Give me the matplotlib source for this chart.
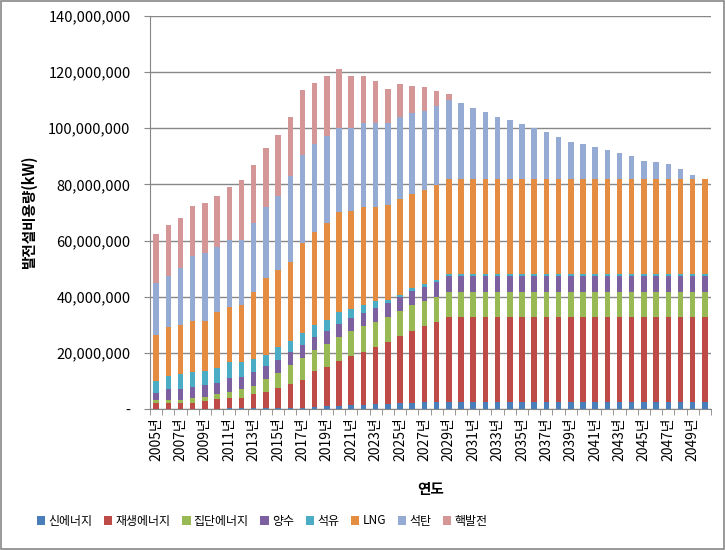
import matplotlib.pyplot as plt
import numpy as np
from matplotlib.patches import Patch, Rectangle
from matplotlib.ticker import FuncFormatter

plt.rcParams['font.family'] = ['Noto Sans CJK KR', 'DejaVu Sans']

# 발전설비용량, 단위: 백만 kW
years = list(range(2005, 2051))
names = ['신에너지', '재생에너지', '집단에너지', '양수', '석유', 'LNG', '석탄', '핵발전']
colors = ['#4A7EBB', '#BE4B48', '#98B954', '#7D60A0', '#4BACC6', '#E48C42', '#95ABD3', '#D49696']

new_energy = [0.1, 0.1, 0.1, 0.1, 0.1, 0.1, 0.2, 0.2, 0.2, 0.3, 0.3, 0.4, 0.5, 0.7, 0.9, 1.1,
              1.3, 1.5, 1.7, 1.9, 2.1, 2.3, 2.4, 2.5, 2.5, 2.5, 2.5, 2.5, 2.5, 2.5, 2.5, 2.5,
              2.5, 2.5, 2.5, 2.5, 2.5, 2.5, 2.5, 2.5, 2.5, 2.5, 2.5, 2.5, 2.5, 2.5]
renewable = [1.9, 1.9, 1.9, 2.2, 2.9, 3.3, 3.6, 3.6, 5.1, 5.9, 7.1, 8.5, 9.8, 12.8, 14.2, 16.1,
             17.7, 18.9, 20.5, 22.1, 24.0, 25.5, 27.3, 28.6, 30.2, 30.2, 30.2, 30.2, 30.2, 30.2,
             30.2, 30.2, 30.2, 30.2, 30.2, 30.2, 30.2, 30.2, 30.2, 30.2, 30.2, 30.2, 30.2, 30.2,
             30.2, 30.2]
district = [1.2, 1.2, 1.2, 1.5, 1.4, 1.9, 2.4, 3.2, 3.0, 4.5, 5.3, 6.8, 7.8, 7.5, 8.1, 8.6,
            8.9, 9.2, 8.9, 8.9, 8.9, 9.3, 8.8, 8.9, 9.1, 9.1, 9.1, 9.1, 9.1, 9.1, 9.1, 9.1,
            9.1, 9.1, 9.1, 9.1, 9.1, 9.1, 9.1, 9.1, 9.1, 9.1, 9.1, 9.1, 9.1, 9.1]
pumped = [2.4, 3.8, 3.8, 4.2, 4.1, 3.8, 5.0, 4.5, 5.0, 4.6, 4.8, 4.7, 4.7, 4.8, 4.6, 4.5,
          4.4, 4.7, 4.8, 4.8, 5.0, 4.9, 5.1, 5.4, 5.4, 5.7, 5.7, 5.7, 5.7, 5.7, 5.7, 5.7,
          5.7, 5.7, 5.7, 5.7, 5.7, 5.7, 5.7, 5.7, 5.7, 5.7, 5.7, 5.7, 5.7, 5.7]
oil = [4.5, 4.8, 5.3, 5.2, 5.0, 5.4, 5.4, 5.4, 4.5, 3.9, 4.5, 3.8, 4.2, 4.1, 3.9, 4.1,
       3.2, 2.8, 2.7, 1.1, 0.6, 1.0, 0.8, 0.6, 0.8, 0.7, 0.7, 0.7, 0.7, 0.7, 0.7, 0.7,
       0.7, 0.7, 0.7, 0.7, 0.7, 0.7, 0.7, 0.7, 0.7, 0.7, 0.7, 0.7, 0.7, 0.7]
lng = [16.3, 17.5, 17.6, 18.3, 18.0, 20.2, 19.9, 20.2, 24.0, 27.4, 27.5, 28.3, 32.3, 33.3,
       34.7, 35.6, 35.1, 35.0, 33.3, 33.7, 34.2, 33.5, 33.6, 33.7, 33.8, 33.6, 33.6, 33.6,
       33.6, 33.6, 33.6, 33.6, 33.6, 33.6, 33.6, 33.6, 33.6, 33.6, 33.6, 33.6, 33.6, 33.6,
       33.6, 33.6, 33.6, 33.6]
coal = [18.6, 17.9, 20.5, 23.1, 24.0, 23.1, 23.7, 23.1, 24.4, 25.5, 26.2, 30.5, 31.2, 31.2,
        30.9, 30.0, 29.4, 29.7, 29.9, 29.3, 29.1, 29.1, 28.0, 28.4, 28.2, 27.2, 25.4, 23.9,
        22.1, 21.1, 19.7, 18.2, 16.8, 15.0, 13.2, 12.5, 11.5, 10.5, 9.3, 8.3, 6.5, 6.1, 5.4,
        3.7, 1.5, 0.0]
nuclear = [17.2, 18.4, 17.5, 17.7, 17.8, 18.1, 18.9, 21.3, 20.8, 20.9, 21.8, 20.9, 23.2,
           21.7, 21.4, 21.0, 18.7, 16.9, 14.9, 12.2, 11.7, 9.5, 8.8, 5.2, 2.3, 0, 0, 0, 0,
           0, 0, 0, 0, 0, 0, 0, 0, 0, 0, 0, 0, 0, 0, 0, 0, 0]

series = [new_energy, renewable, district, pumped, oil, lng, coal, nuclear]

fig = plt.figure(figsize=(7.25, 5.5), dpi=100)
ax = fig.add_axes([0.2069, 0.2564, 0.7738, 0.7145])

x = np.arange(len(years))
bottom = np.zeros(len(years))
for vals, c in zip(series, colors):
    v = np.array(vals) * 1e6
    ax.bar(x, v, width=0.45, bottom=bottom, color=c, linewidth=0, zorder=3)
    bottom += v

ax.set_xlim(-0.5, len(years) - 0.5)
ax.set_ylim(0, 140e6)
ax.set_yticks(np.arange(0, 140e6 + 1, 20e6))
ax.yaxis.set_major_formatter(FuncFormatter(lambda v, p: '-' if v == 0 else f'{int(v):,}'))
ax.grid(axis='y', color='#878787', linewidth=1, zorder=0)

ax.set_xticks(x[::2])
ax.set_xticklabels([f'{y}년' for y in years[::2]], rotation=90)
ax.set_xticks(np.arange(-0.5, len(years), 1), minor=True)
ax.tick_params(axis='x', which='major', length=0, pad=6, labelsize=10)
ax.tick_params(axis='x', which='minor', length=4, color='#878787')
ax.tick_params(axis='y', length=4, color='#878787', labelsize=10.5, pad=10)

for s in ['top', 'right']:
    ax.spines[s].set_visible(False)
for s in ['left', 'bottom']:
    ax.spines[s].set_color('#878787')

ax.set_ylabel('발전설비용량(kW)', fontsize=10.5, fontweight='bold', labelpad=8)
ax.set_xlabel('연도', fontsize=10.5, fontweight='bold', labelpad=14)

handles = [Patch(facecolor=c, label=n) for n, c in zip(names, colors)]
fig.legend(handles=handles, loc='center', bbox_to_anchor=(262 / 725, 1 - 521 / 550),
           ncol=8, frameon=False, fontsize=8.6, handlelength=0.7, handleheight=0.7,
           handletextpad=0.25, columnspacing=1.0)

fig.patches.append(Rectangle((0.001, 0.001), 0.997, 0.997, transform=fig.transFigure,
                             fill=False, edgecolor='#878787', linewidth=1.2))

fig.savefig('out.png', dpi=100)
